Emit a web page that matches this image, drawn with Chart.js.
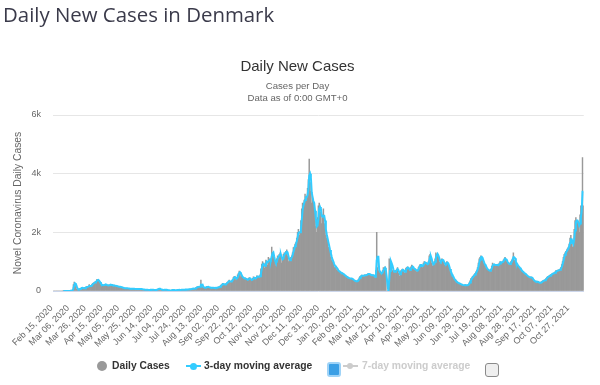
<!DOCTYPE html>
<html>
<head>
<meta charset="utf-8">
<script src="https://cdn.jsdelivr.net/npm/chart.js@4/dist/chart.umd.min.js"></script>
<style>
  html, body { margin:0; padding:0; background:#fff; }
  #wrap { position:relative; width:600px; height:385px; overflow:hidden; }
  #c { position:absolute; left:0; top:0; }
  #pageTitle { position:absolute; left:3px; top:0; font-family:"Open Sans", sans-serif; font-size:20.4px; line-height:28px; color:#3a3a4a; white-space:nowrap; }
  .lg { position:absolute; font-family:"Liberation Sans", Arial, sans-serif; font-weight:bold; font-size:10.3px; line-height:12px; white-space:nowrap; }
</style>
</head>
<body>
<div id="wrap">
  <canvas id="c" width="595" height="385"></canvas>
  <div id="pageTitle">Daily New Cases in Denmark</div>
  <!-- legend -->
  <div style="position:absolute;left:97px;top:361px;width:10px;height:10px;border-radius:50%;background:#999;"></div>
  <div class="lg" style="left:112px;top:360px;color:#333;">Daily Cases</div>
  <div style="position:absolute;left:186px;top:365px;width:15px;height:2px;background:#33ccff;"></div>
  <div style="position:absolute;left:190px;top:362.5px;width:7px;height:7px;border-radius:50%;background:#33ccff;"></div>
  <div class="lg" style="left:204px;top:360px;color:#333;">3-day moving average</div>
  <div style="position:absolute;left:327px;top:362px;width:10px;height:11px;border:2px solid #9fd3f7;border-radius:3px;background:#3b9fe5;"></div>
  <div style="position:absolute;left:343px;top:365px;width:15px;height:2px;background:#cccccc;"></div>
  <div style="position:absolute;left:347px;top:363px;width:6px;height:6px;border-radius:50%;background:#cccccc;"></div>
  <div class="lg" style="left:362px;top:360px;color:#cccccc;">7-day moving average</div>
  <div style="position:absolute;left:485px;top:363px;width:12px;height:12px;border:1px solid #8a8a8a;border-radius:3px;background:#efefef;"></div>
</div>
<script>
// ---- data (daily new cases) ----
const startDate = [2020, 1, 15]; // Feb 15, 2020 (month 0-based)
const feb2020 = [0,0,0,0,0,0,0,0,0,0,0,0,1,0,1];
const mar2020 = [1,0,1,5,5,10,13,1,54,220,300,260,150,60,40,35,75,85,95,120,105,60,115,115,130,150,140,155,215,135,175];
const apr2020 = [220,260,270,290,310,330,390,380,360,300,250,210,205,190,200,210,230,215,190,180,200,210,195,230,185,190,170,200,180,170];
const may2020 = [160,150,140,150,145,120,130,110,100,95,90,100,95,90,85,80,75,70,80,85,70,75,70,65,70,75,60,65,70,65,60];
const jun2020 = [55,50,45,40,45,50,35,30,40,45,40,35,45,40,30,35,50,45,55,70,95,60,45,40,35,40,50,45,40,35];
const jul2020 = [30,25,20,15,25,30,40,35,30,20,25,30,40,45,35,30,40,50,45,35,40,55,60,50,45,60,65,55,70,75,80];
const aug2020 = [90,60,95,120,130,140,150,150,130,370,150,140,120,110,100,130,150,130,140,120,110,100,120,105,110,100,110,95,120,125,130];
const sep2020 = [130,170,200,210,260,240,190,230,250,280,300,340,370,280,330,350,400,470,500,450,380,430,550,600,680,640,480,500,460,420];
const oct2020 = [420,450,400,380,350,430,460,400,390,340,430,480,450,390,470,520,500,470,480,550,760,920,1000,850,770,950,1050,1000,880,1150,1100];
const nov2020 = [950,1100,1500,1250,1200,1050,850,1000,1100,1200,1150,1250,1300,1180,950,1100,1250,1300,1280,1350,1400,1200,1000,1050,1100,1150,1200,1300,1480,1500];
const dec2020 = [1600,1650,1800,2000,2100,1900,2000,2400,2800,3000,2900,3100,3300,3200,3100,3500,3800,4500,3700,3400,3000,3200,3000,2800,2400,2200,2000,2500,2900,3000,2700];
const jan2021 = [2700,2300,2600,2800,2300,2100,1900,1800,1700,1500,1400,1300,1150,1050,1000,950,800,820,850,720,700,680,650,640,600,620,580,560,540,500,500];
const feb2021 = [470,450,430,440,420,430,420,390,360,350,340,330,320,350,400,450,500,520,540,500,520,540,550,530,560,580,590,560];
const mar2021 = [560,540,520,550,540,480,430,700,2000,800,700,650,620,600,580,700,800,750,820,600,0,0,0,1100,950,1000,880,700,650,620,700];
const apr2021 = [700,750,800,600,500,620,700,720,750,680,600,700,780,800,820,760,700,680,820,880,800,750,720,760,700,650,720,800,850,900];
const may2021 = [900,850,800,950,1000,980,950,900,880,1000,1200,1250,1100,950,850,900,1000,1100,1300,1250,1250,1150,1000,950,1050,1100,1050,1000,900,880,950];
const jun2021 = [1000,950,850,750,650,600,550,480,420,380,350,320,300,280,260,250,240,220,210,200,190,200,210,200,190,200,230,280,350,420];
const jul2021 = [450,500,520,560,600,650,700,800,950,1100,1150,1200,1150,1050,950,900,850,800,750,720,700,700,680,750,850,950,900,880,870,900,880];
const aug2021 = [900,850,950,1000,980,950,1000,1050,1100,1150,1050,1000,950,900,950,900,1000,1050,1100,1300,1050,1000,950,900,850,820,800,750,700,680,650];
const sep2021 = [620,600,580,550,520,500,480,470,460,480,450,400,350,330,320,310,330,300,290,280,270,300,320,340,360,370,380,420,460,490];
const oct2021 = [500,520,540,560,580,600,610,600,650,700,680,700,720,710,750,800,900,1000,1150,1250,1300,1350,1400,1450,1500,1600,1800,1900,1600,1500,1700];
const nov2021 = [2100,2400,2500,2300,2400,2300,2000,2600,2900,2700,4550,2900];

const tickLabels = ["Feb 15, 2020","Mar 06, 2020","Mar 26, 2020","Apr 15, 2020","May 05, 2020","May 25, 2020","Jun 14, 2020","Jul 04, 2020","Jul 24, 2020","Aug 13, 2020","Sep 02, 2020","Sep 22, 2020","Oct 12, 2020","Nov 01, 2020","Nov 21, 2020","Dec 11, 2020","Dec 31, 2020","Jan 20, 2021","Feb 09, 2021","Mar 01, 2021","Mar 21, 2021","Apr 10, 2021","Apr 30, 2021","May 20, 2021","Jun 09, 2021","Jun 29, 2021","Jul 19, 2021","Aug 08, 2021","Aug 28, 2021","Sep 17, 2021","Oct 07, 2021","Oct 27, 2021"];

const daily = [].concat(feb2020, mar2020, apr2020, may2020, jun2020, jul2020, aug2020, sep2020, oct2020, nov2020, dec2020,
  jan2021, feb2021, mar2021, apr2021, may2021, jun2021, jul2021, aug2021, sep2021, oct2021, nov2021);

// categories: one date per daily value
const MON = ["Jan","Feb","Mar","Apr","May","Jun","Jul","Aug","Sep","Oct","Nov","Dec"];
const labels = daily.map((_, i) => {
  const d = new Date(Date.UTC(startDate[0], startDate[1], startDate[2] + i));
  return MON[d.getUTCMonth()] + " " + String(d.getUTCDate()).padStart(2, "0") + ", " + d.getUTCFullYear();
});

// 3-day moving average of the daily series (trailing), shown from the first reported case
const firstCase = daily.findIndex(v => v > 0);
const ma3 = daily.map((v, i) => {
  if (i < firstCase || i < 2) return null;
  return (daily[i] + daily[i - 1] + daily[i - 2]) / 3;
});
const tickSet = new Set(tickLabels);

Chart.defaults.font.family = '"Liberation Sans", Arial, sans-serif';

new Chart(document.getElementById('c'), {
  data: {
    labels: labels,
    datasets: [
      { type: 'line', label: '3-day moving average', data: ma3, borderColor: '#33ccff', borderWidth: 2,
        pointRadius: 0, fill: false, tension: 0, order: 0, spanGaps: false },
      { type: 'bar', label: 'Daily Cases', data: daily, backgroundColor: '#999999', borderWidth: 0,
        barPercentage: 1, categoryPercentage: 1, order: 1 }
    ]
  },
  options: {
    responsive: false,
    animation: false,
    events: [],
    layout: { padding: { top: 0, left: 0, right: 0, bottom: 34 } },
    plugins: {
      legend: { display: false },
      tooltip: { enabled: false },
      title: { display: true, text: 'Daily New Cases', color: '#333333',
        font: { size: 15, weight: 'normal', lineHeight: 1.2 }, padding: { top: 58, bottom: 4 } },
      subtitle: { display: true, text: ['Cases per Day', 'Data as of 0:00 GMT+0'], color: '#666666',
        font: { size: 9.6, lineHeight: 1.25 }, padding: { top: 0, bottom: 11 } }
    },
    scales: {
      x: {
        grid: { display: false },
        border: { color: '#ccd6eb' },
        ticks: {
          autoSkip: false, minRotation: 45, maxRotation: 45, color: '#666666', font: { size: 9 }, padding: 4,
          labelOffset: -2,
          callback: function (v, i) { const l = labels[i]; return tickSet.has(l) ? l : ''; }
        },
        afterFit: function (s) { s.height = 60; }
      },
      y: {
        min: 0, max: 6000,
        grid: { color: '#e6e6e6', drawTicks: false },
        border: { display: false },
        ticks: { stepSize: 2000, color: '#666666', font: { size: 9 }, padding: 12,
          callback: function (v) { return v === 0 ? '0' : (v / 1000) + 'k'; } },
        title: { display: true, text: 'Novel Coronavirus Daily Cases', color: '#666666',
          font: { size: 10.3 }, padding: { top: 12, bottom: 0 } },
        afterFit: function (s) { s.width = 53; }
      },
      yPad: {
        position: 'right', display: true, min: 0, max: 1,
        grid: { display: false, drawTicks: false }, border: { display: false },
        ticks: { display: false },
        afterFit: function (s) { s.width = 8; }
      }
    }
  }
});
</script>
</body>
</html>
